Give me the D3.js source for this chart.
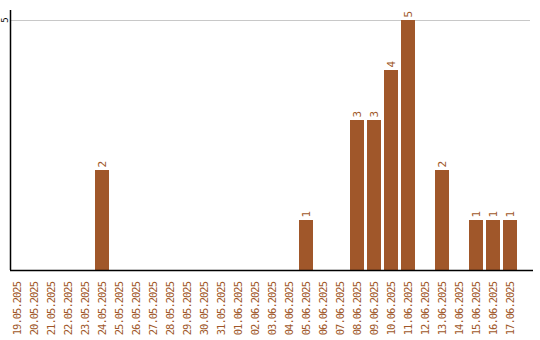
<!DOCTYPE html>
<html>
<head>
<meta charset="utf-8">
<script src="https://cdn.jsdelivr.net/npm/d3@7"></script>
<style>
  body { margin: 0; background: #fff; }
  text { font-family: "DejaVu Sans Mono", monospace; font-size: 11px; }
</style>
</head>
<body>
<div id="chart"></div>
<script>
// dates shown on the x axis
var days = ["19.05.2025","20.05.2025","21.05.2025","22.05.2025","23.05.2025","24.05.2025",
  "25.05.2025","26.05.2025","27.05.2025","28.05.2025","29.05.2025","30.05.2025","31.05.2025",
  "01.06.2025","02.06.2025","03.06.2025","04.06.2025","05.06.2025","06.06.2025","07.06.2025",
  "08.06.2025","09.06.2025","10.06.2025","11.06.2025","12.06.2025","13.06.2025","14.06.2025",
  "15.06.2025","16.06.2025","17.06.2025"];
var counts = [0,0,0,0,0,2, 0,0,0,0,0,0,0, 0,0,0,0,1,0,0, 3,3,4,5,0,2,0, 1,1,1];
var yTicks = [5];

var W = 540, H = 340;
var color = "#a0572a";

var svg = d3.select("#chart").append("svg")
    .attr("width", W).attr("height", H);

var x = d3.scaleBand().domain(days).range([10, 520]).padding(0);
var y = d3.scaleLinear().domain([0, 5.2]).range([270, 10]);
var barW = x.bandwidth() - 3;

var data = days.map(function(d, i){ return {day: d, v: counts[i]}; })
               .filter(function(d){ return d.v > 0; });

// gridline
svg.selectAll(".grid").data(yTicks).enter().append("line")
    .attr("x1", 11).attr("x2", 530)
    .attr("y1", function(d){ return Math.round(y(d)) + 0.5; })
    .attr("y2", function(d){ return Math.round(y(d)) + 0.5; })
    .style("stroke", "#c8c8c8");

// y tick labels, rotated
svg.selectAll(".ylab").data(yTicks).enter().append("text")
    .attr("transform", function(d){ return "translate(8," + y(d) + ") rotate(-90)"; })
    .attr("text-anchor", "middle")
    .style("fill", "#000")
    .style("font-size", "9px")
    .text(function(d){ return d; });

// bars
svg.selectAll(".bar").data(data).enter().append("rect")
    .attr("x", function(d){ return x(d.day); })
    .attr("y", function(d){ return y(d.v); })
    .attr("width", barW)
    .attr("height", function(d){ return y(0) - y(d.v); })
    .style("fill", color);

// value labels
svg.selectAll(".val").data(data).enter().append("text")
    .attr("transform", function(d){ return "translate(" + (x(d.day) + barW / 2 + 4) + "," + (y(d.v) - 2.5) + ") rotate(-90)"; })
    .style("fill", color)
    .text(function(d){ return d.v; });

// axes lines
svg.append("line").attr("x1", 10.5).attr("x2", 10.5).attr("y1", 10).attr("y2", 270)
    .style("stroke", "#000").style("stroke-width", 1.5);
svg.append("line").attr("x1", 10).attr("x2", 533).attr("y1", 270.5).attr("y2", 270.5)
    .style("stroke", "#000").style("stroke-width", 1.5);

// x labels
svg.selectAll(".xlab").data(days).enter().append("text")
    .attr("transform", function(d){ return "translate(" + (x(d) + barW / 2 + 4) + ",282) rotate(-90)"; })
    .attr("text-anchor", "end")
    .style("font-size", "10.5px")
    .style("letter-spacing", "-1px")
    .style("fill", color)
    .text(function(d){ return d; });
</script>
</body>
</html>
